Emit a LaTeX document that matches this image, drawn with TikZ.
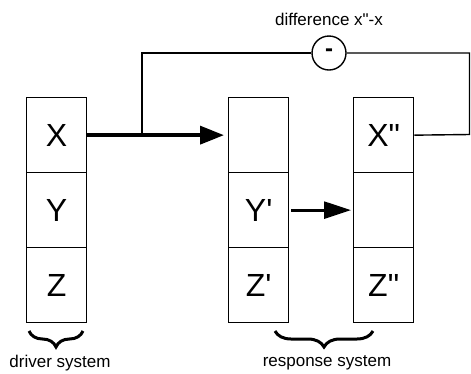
\documentclass[tikz,border=0pt]{standalone}
\usepackage{fontspec}
\newfontfamily\lsans{Liberation Sans}
\usetikzlibrary{arrows.meta,decorations.pathreplacing}
\begin{document}
\begin{tikzpicture}[x=1pt,y=-1pt,
  cell/.style={draw, line width=1.3pt, minimum width=60pt, minimum height=75pt,
    inner sep=0pt, anchor=north west, text height=23pt, text depth=0pt,
    font=\lsans\fontsize{32}{32}\selectfont},
  lbl/.style={font=\lsans\fontsize{17}{17}\selectfont, inner sep=0pt},
  thin/.style={line width=1.4pt},
  bigarrow/.style={line width=3.6pt, -{Triangle[length=24pt,width=18pt]}, shorten >=4pt},
  midarrow/.style={line width=2.8pt, -{Triangle[length=27pt,width=17pt]}, shorten >=2pt},
  bracestyle/.style={line width=3pt, decorate, decoration={brace, amplitude=16pt}}
]
\useasboundingbox (0,0) rectangle (471,373);
% driver
\node[cell] (x1) at (26,97) {X};
\node[cell] (y1) at (26,172) {Y};
\node[cell] (z1) at (26,247) {Z};
% response 1
\node[cell] (x2) at (228,97) {};
\node[cell] (y2) at (228,172) {Y'};
\node[cell] (z2) at (228,247) {Z'};
% response 2
\node[cell] (x3) at (353,97) {X\symbol{"22}};
\node[cell] (y3) at (353,172) {};
\node[cell] (z3) at (353,247) {Z\symbol{"22}};
% difference
\node[draw, circle, thin, minimum size=34pt, inner sep=0pt,
  font=\lsans\bfseries\fontsize{24}{24}\selectfont] (diff) at (329,53) {-};
\node[lbl] (difflbl) at (329,19) {difference x\symbol{"22}-x};
% arrows
\draw[bigarrow] (x1.east) -- (x2.west);
\draw[midarrow] ([xshift=2pt]y2.east) -- (y3.west);
\coordinate (tap) at (142,134.5);
\coordinate (tapup) at (142,53);
\coordinate (rr) at (469.5,134.5);
\coordinate (rrup) at (469.5,53);
\draw[thin] (tap) -- (tapup) -- (diff.west);
\draw[thin] (x3.east) -- (rr) -- (rrup) -- (diff.east);
% braces
\draw[bracestyle] (83,331) -- (29,331);
\draw[bracestyle] (373,331) -- (275,331);
\node[lbl] (drv) at (60,363) {driver system};
\node[lbl] (rsp) at (327,363) {response system};
\end{tikzpicture}
\end{document}
